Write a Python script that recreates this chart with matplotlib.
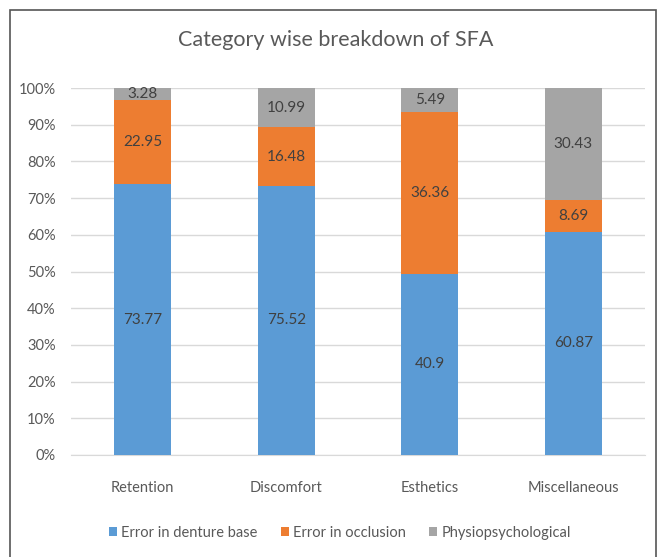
import matplotlib
matplotlib.use("Agg")
import matplotlib.pyplot as plt
from matplotlib.patches import Rectangle
import numpy as np

categories = ["Retention", "Discomfort", "Esthetics", "Miscellaneous"]
series_names = ["Error in denture base", "Error in occlusion", "Physiopsychological"]
denture_base = [73.77, 75.52, 40.9, 60.87]
occlusion = [22.95, 16.48, 36.36, 8.69]
physio = [3.28, 10.99, 5.49, 30.43]
colors = ["#5B9BD5", "#ED7D31", "#A5A5A5"]

plt.rcParams["font.family"] = ["Lato", "DejaVu Sans"]
text_color = "#404040"
axis_color = "#595959"

fig = plt.figure(figsize=(6.59, 5.57), dpi=100)
ax = fig.add_axes([71 / 659, 1 - 455 / 557, 574 / 659, 367 / 557])

# 100% stacked: heights are shares of the row total, labels keep the raw values
raw = np.array([denture_base, occlusion, physio])
pct = raw / raw.sum(axis=0) * 100

x = np.arange(len(categories))
bottom = np.zeros(len(categories))
for i, name in enumerate(series_names):
    ax.bar(x, pct[i], 0.4, bottom=bottom, color=colors[i], label=name, zorder=3)
    for j in range(len(categories)):
        ax.text(x[j], bottom[j] + pct[i][j] / 2, f"{raw[i][j]:g}", ha="center", va="center",
                fontsize=11, color=text_color, zorder=4)
    bottom += pct[i]

ax.set_xlim(-0.5, 3.5)
ax.set_ylim(0, 100)
ax.set_yticks(np.arange(0, 101, 10))
ax.set_yticklabels([f"{v}%" for v in range(0, 101, 10)])
ax.set_xticks(x)
ax.set_xticklabels(categories)
ax.tick_params(length=0, labelsize=10.5, colors=axis_color)
ax.tick_params(axis="x", pad=19)
ax.tick_params(axis="y", pad=11)
ax.grid(axis="y", color="#D9D9D9", linewidth=1, zorder=0)
for s in ["top", "right", "left"]:
    ax.spines[s].set_visible(False)
ax.spines["bottom"].set_color("#D9D9D9")

fig.text(336 / 659, 1 - 40 / 557, "Category wise breakdown of SFA", ha="center", va="center",
         fontsize=15.5, color=axis_color)

fig.legend(loc="center", bbox_to_anchor=(340 / 659, 1 - 533 / 557), ncol=3, frameon=False,
           fontsize=10.5, handlelength=0.55, handleheight=0.55, handletextpad=0.3,
           columnspacing=1.6, labelcolor=axis_color)

fig.patches.append(Rectangle((10 / 659, -0.1), 646 / 659, 1.1 - 10 / 557, transform=fig.transFigure,
                             fill=False, edgecolor="#555555", linewidth=1.2))

fig.savefig("out.png", dpi=100)
